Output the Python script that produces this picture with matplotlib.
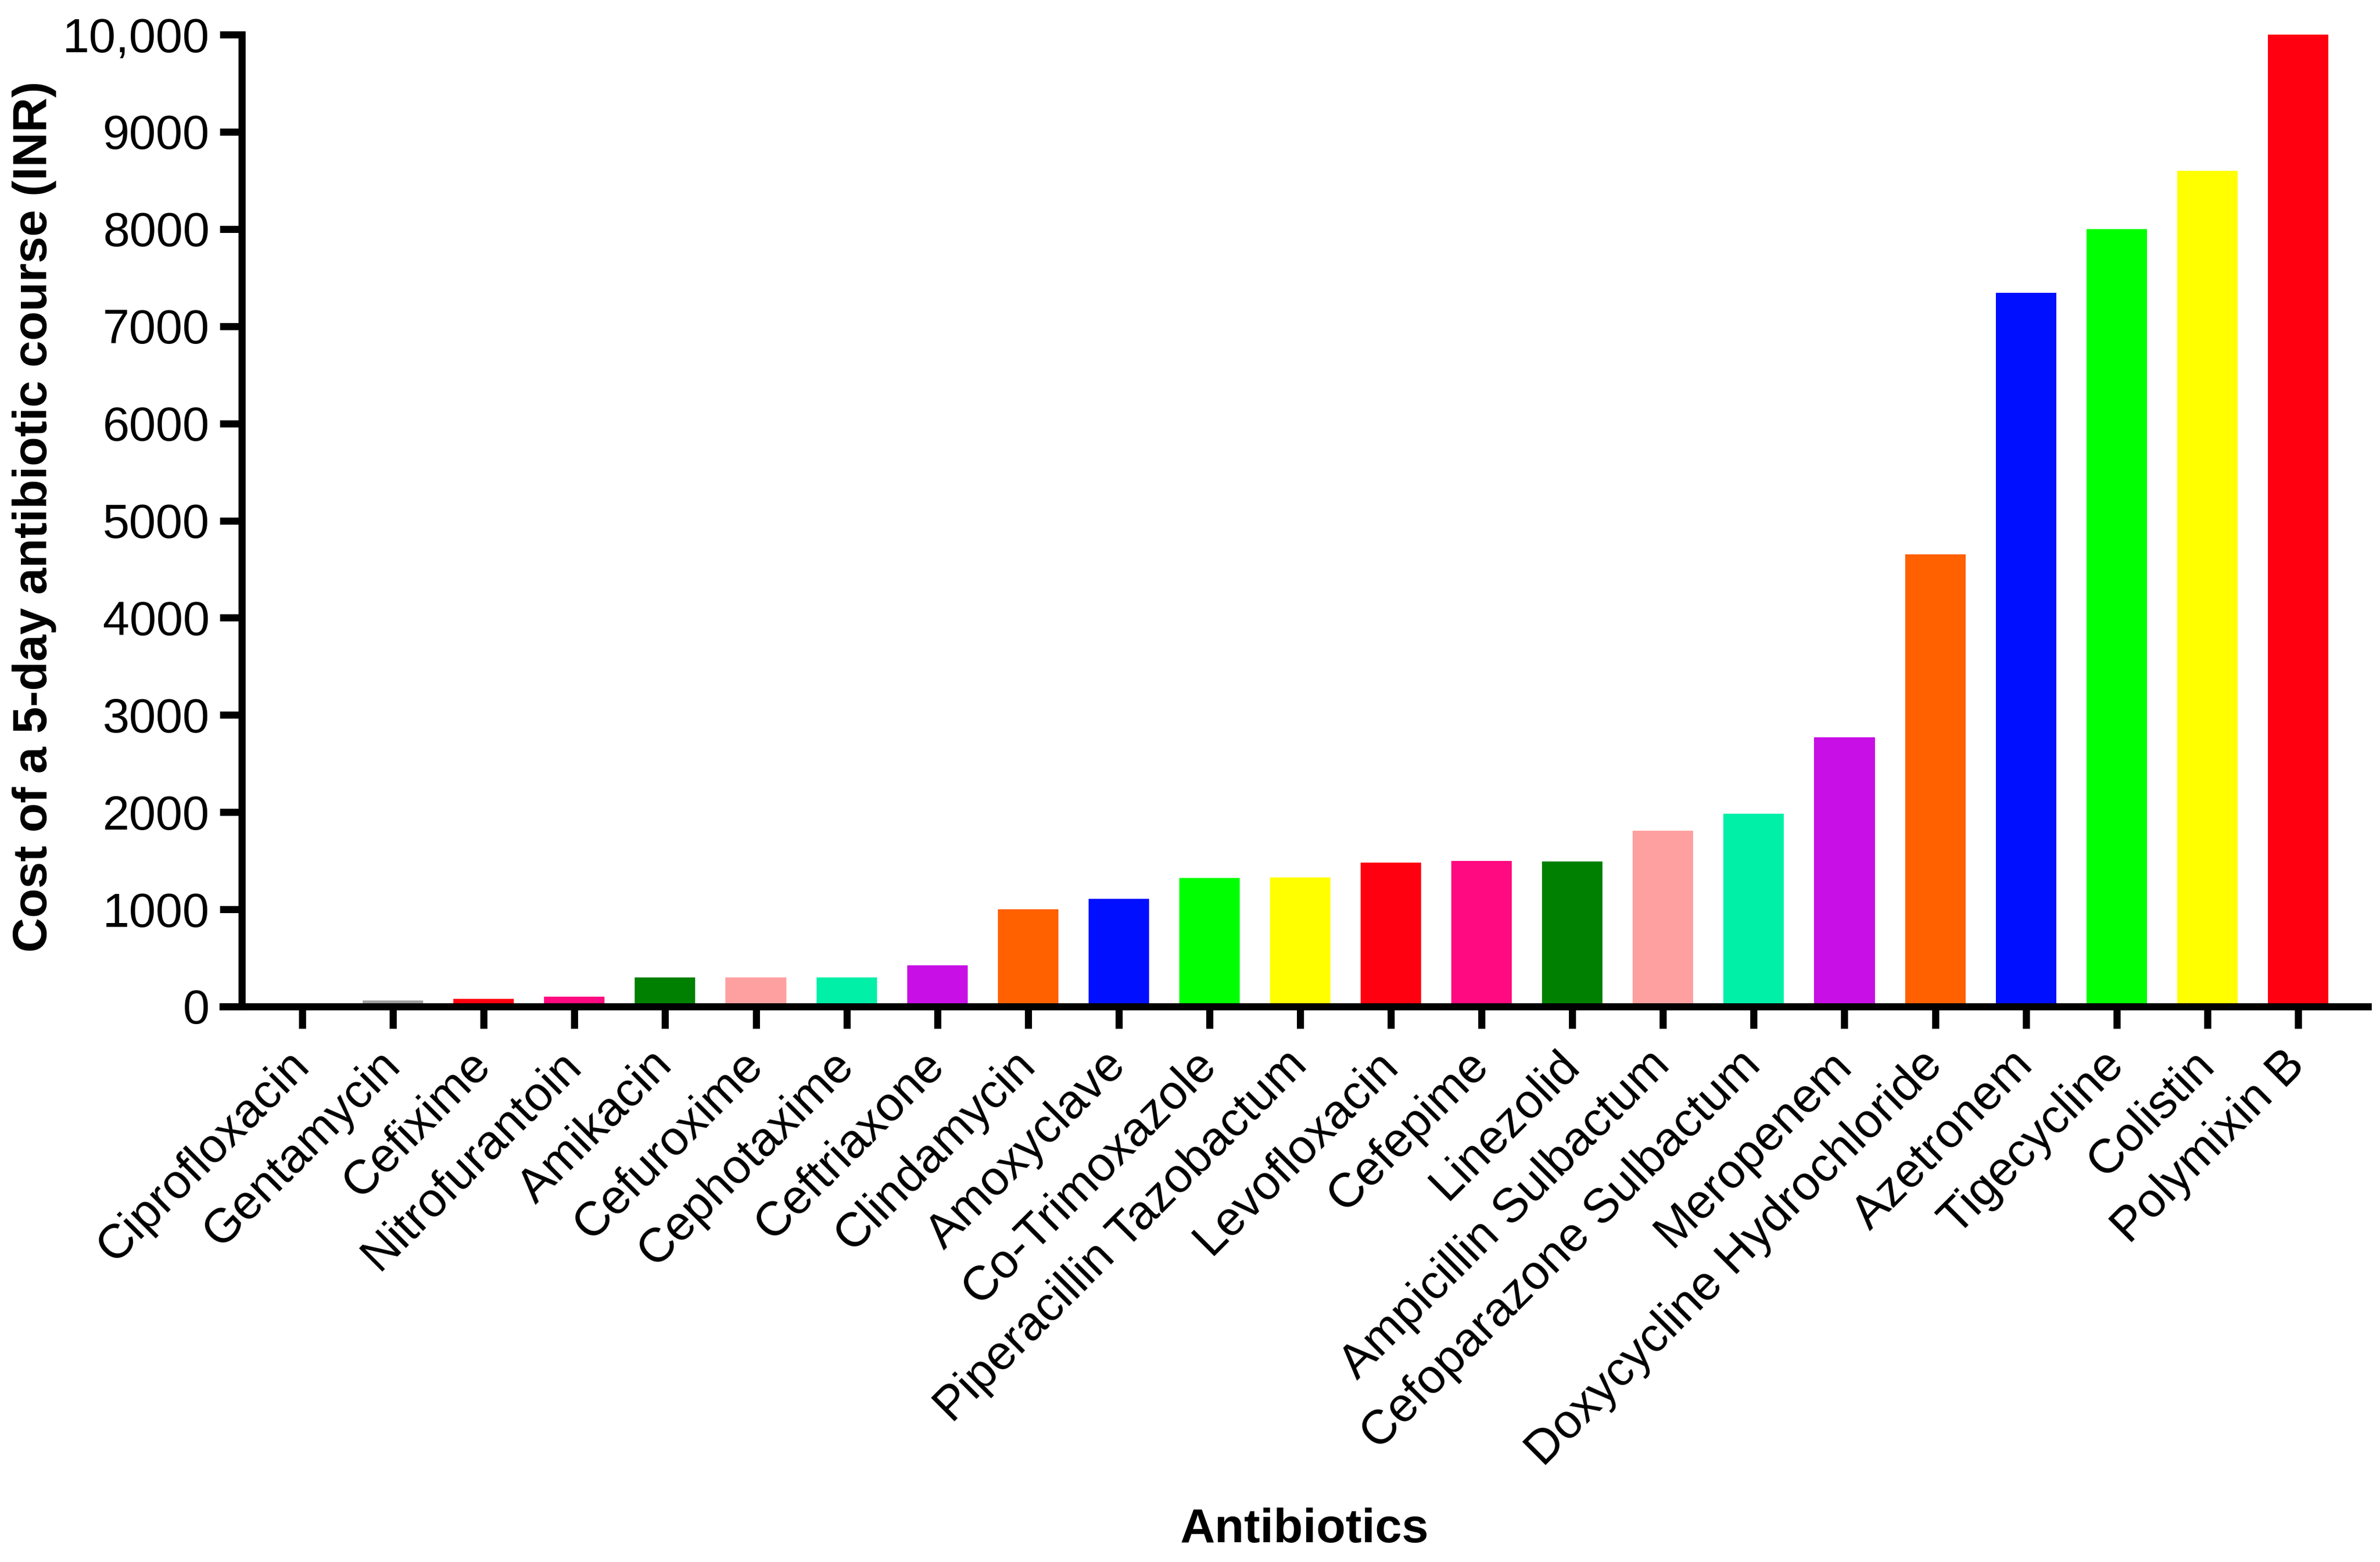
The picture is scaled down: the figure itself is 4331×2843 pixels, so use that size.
import matplotlib
matplotlib.use("Agg")
import matplotlib.pyplot as plt
from matplotlib.ticker import FixedLocator, FixedFormatter

plt.rcParams['font.family'] = ['Liberation Sans', 'DejaVu Sans']

antibiotics = ["Ciprofloxacin", "Gentamycin", "Cefixime", "Nitrofurantoin", "Amikacin",
               "Cefuroxime", "Cephotaxime", "Ceftriaxone", "Clindamycin", "Amoxyclave",
               "Co-Trimoxazole", "Piperacillin Tazobactum", "Levofloxacin", "Cefepime",
               "Linezolid", "Ampicillin Sulbactum", "Cefoparazone Sulbactum", "Meropenem",
               "Doxycycline Hydrochloride", "Azetronem", "Tigecycline", "Colistin", "Polymixin B"]
costs = [15, 65, 80, 100, 300, 300, 300, 425, 1000, 1110, 1320, 1330, 1480, 1500,
         1490, 1810, 1985, 2770, 4655, 7345, 8000, 8600, 10000]
bar_colors = ["#000000", "#A0A0A0", "#FF0010", "#FF0A80", "#008000", "#FFA0A0", "#00F0A8",
              "#C80FE6", "#FF6000", "#000FFF", "#00FF00", "#FFFF00", "#FF0010", "#FF0A80",
              "#008000", "#FFA0A0", "#00F0A8", "#C80FE6", "#FF6000", "#000FFF", "#00FF00",
              "#FFFF00", "#FF0010"]
y_ticks = [0, 1000, 2000, 3000, 4000, 5000, 6000, 7000, 8000, 9000, 10000]
y_tick_labels = ["0", "1000", "2000", "3000", "4000", "5000", "6000", "7000", "8000", "9000", "10,000"]

W, H = 4331, 2843
fig = plt.figure(figsize=(W / 300, H / 300), dpi=300)
left, right, bottom, top = 440, 4309, 1832, 63
ax = fig.add_axes([left / W, 1 - bottom / H, (right - left) / W, (bottom - top) / H])

x = list(range(len(antibiotics)))
ax.bar(x, costs, width=0.667, color=bar_colors, edgecolor='none')

ax.set_xlim(-0.667, len(antibiotics) - 1 + 0.77)
ax.set_ylim(0, 10000)

lw = 3.1
for s in ['top', 'right']:
    ax.spines[s].set_visible(False)
for s in ['left', 'bottom']:
    ax.spines[s].set_linewidth(lw)
    ax.spines[s].set_color('black')

# x-axis line extends to the left of the y axis (Prism style)
ax.plot([-41 / (right - left), 0], [0, 0], color='black', lw=lw,
        transform=ax.get_yaxis_transform(), clip_on=False, solid_capstyle='butt', zorder=3)

ax.yaxis.set_major_locator(FixedLocator(y_ticks))
ax.yaxis.set_major_formatter(FixedFormatter(y_tick_labels))
ax.set_xticks(x)
ax.set_xticklabels(antibiotics, rotation=45, ha='right', va='center', rotation_mode='anchor')

ax.tick_params(axis='both', which='major', length=9.6, width=lw, color='black',
               labelsize=21, direction='out')
ax.tick_params(axis='y', pad=4.5)
ax.tick_params(axis='x', pad=13)

fig.text(63 / W, 1 - 940 / H, "Cost of a 5-day antibiotic course (INR)", rotation=90,
         ha='center', va='center', fontsize=21, fontweight='bold')
fig.text((left + right) / 2 / W, 1 - 2785 / H, "Antibiotics",
         ha='center', va='center', fontsize=21, fontweight='bold')

fig.savefig("out.png", dpi=300, facecolor='white')
